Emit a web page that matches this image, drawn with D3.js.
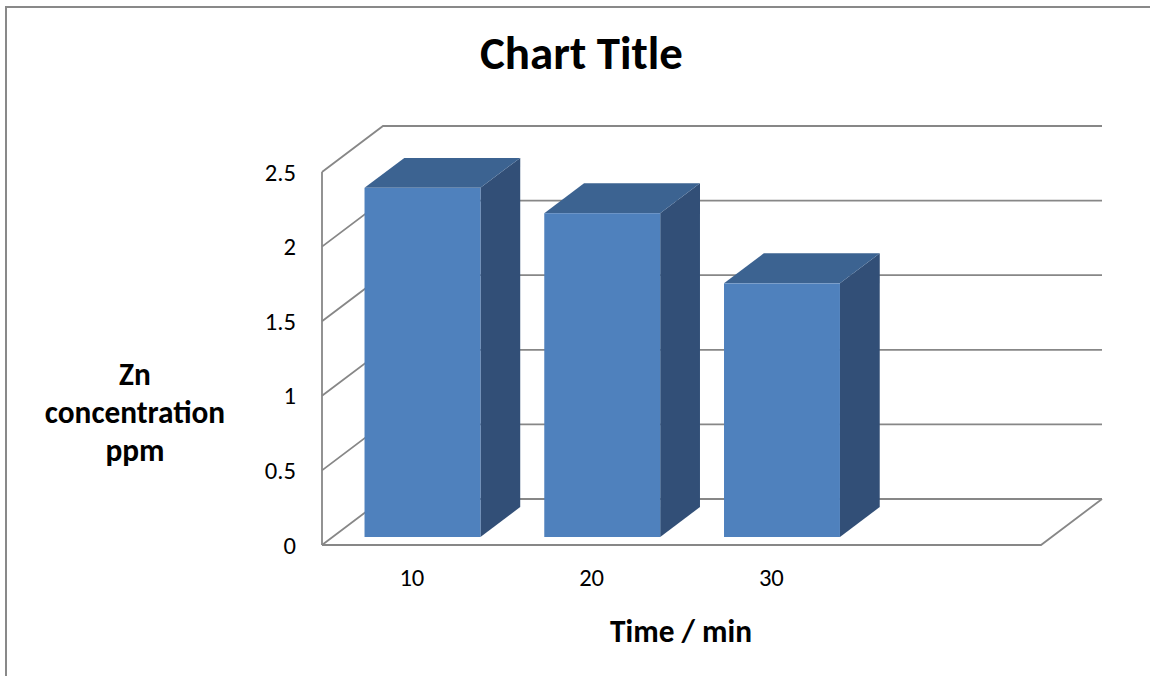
<!DOCTYPE html>
<html>
<head>
<meta charset="utf-8">
<script src="https://cdn.jsdelivr.net/npm/d3@7"></script>
<style>
  html, body { margin: 0; padding: 0; background: #fff; }
  svg { display: block; }
  text { font-family: Carlito, Calibri, "Open Sans", sans-serif; fill: #000; }
</style>
</head>
<body>
<svg id="chart" width="1150" height="676"></svg>
<script>
// Chart data
const categories = ["10", "20", "30", ""];
const values = [2.34, 2.17, 1.70];
const yTicks = [0, 0.5, 1, 1.5, 2, 2.5];
const yTickLabels = ["0", "0.5", "1", "1.5", "2", "2.5"];
const chartTitle = "Chart Title";
const xTitle = "Time / min";
const yTitleLines = ["Zn", "concentration", "ppm"];

const svg = d3.select("#chart");
const W = 1150, H = 676;

// Scale a text element's font size so its rendered width equals `target`
function fitWidth(sel, target) {
  const node = sel.node();
  const fs = parseFloat(sel.attr("font-size"));
  const w = node.getComputedTextLength();
  if (w > 0) sel.attr("font-size", (fs * target / w).toFixed(2));
  return parseFloat(sel.attr("font-size"));
}

// Outer chart frame (top and left edges)
svg.append("path")
  .attr("d", `M6,${H} L6,7 L${W},7`)
  .attr("fill", "none")
  .attr("stroke", "#898989")
  .attr("stroke-width", 2);

// Front-plane scales and oblique depth vector
const x = d3.scaleBand().domain(categories).range([322, 1041]).padding(0);
const y = d3.scaleLinear().domain([0, 2.5]).range([545, 172]);
const depth = { dx: 61, dy: -46 };
const barFront = 0.174, barBack = 0.826;   // bar position within floor depth
const barWidthRatio = 0.645;

const gridColor = "#878787";
const grid = svg.append("g").attr("fill", "none").attr("stroke", gridColor).attr("stroke-width", 1.8);

// Front vertical axis line
grid.append("line")
  .attr("x1", x.range()[0]).attr("x2", x.range()[0])
  .attr("y1", y(0)).attr("y2", y(2.5));

// Side wall diagonals + back wall gridlines
yTicks.forEach(t => {
  const x0 = x.range()[0], yy = y(t);
  grid.append("path")
    .attr("d", `M${x0},${yy} L${x0 + depth.dx},${yy + depth.dy} L${x.range()[1] + depth.dx},${yy + depth.dy}`);
});

// Floor: front edge and right diagonal
grid.append("path")
  .attr("d", `M${x.range()[0]},${y(0)} L${x.range()[1]},${y(0)} L${x.range()[1] + depth.dx},${y(0) + depth.dy}`);

// 3D bars
const colFront = "#4f81bd", colTop = "#3c6391", colSide = "#324f77";
const bars = svg.append("g");
values.forEach((v, i) => {
  const cat = categories[i];
  const bw = x.bandwidth() * barWidthRatio;
  const xl = x(cat) + (x.bandwidth() - bw) / 2;
  const xr = xl + bw;
  const ox0 = depth.dx * barFront, oy0 = depth.dy * barFront;
  const ox1 = depth.dx * barBack, oy1 = depth.dy * barBack;
  const yT = y(v), yB = y(0);
  const g = bars.append("g");
  // side face
  g.append("polygon")
    .attr("points", [[xr + ox0, yT + oy0], [xr + ox1, yT + oy1], [xr + ox1, yB + oy1], [xr + ox0, yB + oy0]].join(" "))
    .attr("fill", colSide);
  // top face
  g.append("polygon")
    .attr("points", [[xl + ox0, yT + oy0], [xr + ox0, yT + oy0], [xr + ox1, yT + oy1], [xl + ox1, yT + oy1]].join(" "))
    .attr("fill", colTop);
  // front face
  g.append("rect")
    .attr("x", xl + ox0).attr("y", yT + oy0)
    .attr("width", bw).attr("height", yB - yT)
    .attr("fill", colFront);
});

// X category labels (font size set from the width of "10")
const xLab = svg.append("g").selectAll("text")
  .data(categories.filter(c => c !== ""))
  .join("text")
  .attr("x", d => x(d) + x.bandwidth() / 2)
  .attr("y", 586)
  .attr("text-anchor", "middle")
  .attr("font-size", 20)
  .text(d => d);
const tickFs = fitWidth(d3.select(xLab.nodes()[0]), 25);
xLab.attr("font-size", tickFs);

// Y tick labels
svg.append("g").selectAll("text")
  .data(yTicks)
  .join("text")
  .attr("x", 296)
  .attr("y", d => y(d))
  .attr("dy", "0.35em")
  .attr("text-anchor", "end")
  .attr("font-size", tickFs)
  .text((d, i) => yTickLabels[i]);

// Title
fitWidth(svg.append("text")
  .attr("x", 581.5).attr("y", 69)
  .attr("text-anchor", "middle")
  .attr("font-size", 36)
  .attr("font-weight", "bold")
  .text(chartTitle), 203);

// X axis title
const axisTitleFs = fitWidth(svg.append("text")
  .attr("x", 681).attr("y", 642)
  .attr("text-anchor", "middle")
  .attr("font-size", 22)
  .attr("font-weight", "bold")
  .text(xTitle), 142);

// Y axis title (three lines, same size as the x axis title)
svg.append("g").selectAll("text")
  .data(yTitleLines)
  .join("text")
  .attr("x", 135)
  .attr("y", (d, i) => 385 + i * 38)
  .attr("text-anchor", "middle")
  .attr("font-size", axisTitleFs)
  .attr("font-weight", "bold")
  .text(d => d);
</script>
</body>
</html>
